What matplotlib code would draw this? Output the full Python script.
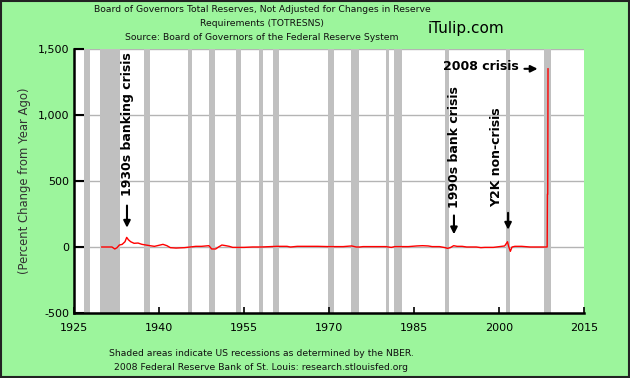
import matplotlib
matplotlib.use("Agg")
import matplotlib.pyplot as plt
from matplotlib.patches import Rectangle

# ---- Data ----
years = [1929.9, 1931.0, 1931.7, 1932.2, 1932.6, 1933.0, 1933.5, 1934.0, 1934.3,
         1934.6, 1935.0, 1935.6, 1936.3, 1937.0, 1937.7, 1938.4, 1939.2, 1940.2,
         1940.7, 1941.4, 1942.0, 1943.0, 1944.5, 1945.5, 1946.5, 1947.5, 1948.8,
         1949.3, 1950.0, 1950.5, 1951.1, 1951.8, 1952.4, 1953.0, 1955.0, 1956.5,
         1958.0, 1960.8, 1962.6, 1963.2, 1964.4, 1968.0, 1970.0, 1972.5, 1974.0,
         1974.8, 1975.4, 1976.0, 1978.0, 1980.0, 1981.0, 1981.6, 1982.2, 1984.0,
         1985.5, 1986.5, 1987.5, 1988.2, 1989.5, 1990.5, 1990.9, 1991.4, 1992.0,
         1992.6, 1993.5, 1994.3, 1996.0, 1996.8, 1997.5, 1999.0, 2001.0, 2001.5,
         2001.7, 2002.0, 2002.3, 2002.8, 2004.0, 2005.5, 2007.0, 2008.5, 2008.55,
         2008.6, 2008.65]
pct_change = [0, 0, 0, -15, -5, 15, 20, 40, 73,
              55, 40, 28, 30, 20, 15, 10, 5, 15,
              20, 10, -5, -8, -5, 0, 5, 5, 10,
              -15, -15, 0, 15, 10, 5, -3, -3, 0,
              0, 5, 5, 0, 5, 5, 3, 3, 8,
              0, 0, 3, 3, 3, -3, 3, 3, 3,
              8, 10, 8, 3, 3, -5, -10, -5, 10,
              5, 5, 0, 0, -5, -3, -3, 8, 40,
              5, -33, 0, 5, 5, 0, 0, 0, 400,
              400, 1350]

# NBER recessions (start, end) in decimal years
recessions = [(1926.8, 1927.9), (1929.6, 1933.2), (1937.4, 1938.5), (1945.1, 1945.8),
              (1948.9, 1949.8), (1953.5, 1954.4), (1957.6, 1958.4), (1960.2, 1961.1),
              (1969.9, 1970.9), (1973.8, 1975.3), (1980.0, 1980.6), (1981.5, 1982.9),
              (1990.4, 1991.2), (2001.2, 2001.9), (2007.9, 2009.1)]

x_ticks = [1925, 1940, 1955, 1970, 1985, 2000, 2015]
y_ticks = [-500, 0, 500, 1000, 1500]
y_tick_labels = ["-500", "0", "500", "1,000", "1,500"]

# ---- Figure ----
bg = "#9cf59c"
fig = plt.figure(figsize=(6.3, 3.78), dpi=100)
fig.patch.set_facecolor(bg)
fig.patches.append(Rectangle((0.0015, 0.0025), 0.997, 0.995, transform=fig.transFigure,
                             fill=False, edgecolor="#222222", linewidth=1.5))

ax = fig.add_axes([74 / 630, 65 / 378, 510 / 630, 264 / 378])
ax.set_facecolor("white")

for start, end in recessions:
    ax.axvspan(start, end, color="#c0c0c0", lw=0, zorder=1)

for y in [0, 500, 1000, 1500]:
    ax.axhline(y, color="#b4b4b4", lw=1, zorder=0.5)

ax.plot(years, pct_change, color="red", lw=1, zorder=3)

ax.set_xlim(1925, 2015)
ax.set_ylim(-500, 1500)
ax.set_xticks(x_ticks)
ax.set_yticks(y_ticks)
ax.set_yticklabels(y_tick_labels)
ax.tick_params(axis="both", direction="in", labelsize=8, colors="black")
ax.tick_params(axis="y", length=7, width=1.5)
ax.tick_params(axis="x", length=4, width=1.2, pad=7)
for side in ["top", "right"]:
    ax.spines[side].set_visible(False)
for side in ["left", "bottom"]:
    ax.spines[side].set_linewidth(1.8)
    ax.spines[side].set_zorder(4)
ax.set_ylabel("(Percent Change from Year Ago)", fontsize=8.4, color="#333333", labelpad=5)

# ---- Annotations ----
bold = dict(fontsize=9, fontweight="bold", color="black", rotation=90, ha="center", va="center")
arrow = dict(arrowstyle="-|>", color="black", lw=1.5, mutation_scale=10)

ax.text(1934.5, 930, "1930s banking crisis", **bold, zorder=5)
ax.annotate("", xy=(1934.35, 125), xytext=(1934.35, 335), arrowprops=arrow, zorder=5)
ax.text(1992.2, 760, "1990s bank crisis", **bold, zorder=5)
ax.annotate("", xy=(1992.05, 75), xytext=(1992.05, 260), arrowprops=arrow, zorder=5)
ax.text(1999.6, 680, "Y2K non-crisis", **bold, zorder=5)
ax.annotate("", xy=(2001.6, 110), xytext=(2001.6, 280), arrowprops=arrow, zorder=5)
ax.text(2003.5, 1365, "2008 crisis", fontsize=9, fontweight="bold", ha="right",
        va="center", zorder=5)
ax.annotate("", xy=(2007.3, 1350), xytext=(2004.0, 1350), arrowprops=arrow, zorder=5)

# ---- Titles / footer ----
small = dict(ha="center", va="center", fontsize=6.7, color="#111111")
fig.text(262 / 630, 1 - 10 / 378,
         "Board of Governors Total Reserves, Not Adjusted for Changes in Reserve", **small)
fig.text(262 / 630, 1 - 24 / 378, "Requirements (TOTRESNS)", **small)
fig.text(262 / 630, 1 - 38 / 378, "Source: Board of Governors of the Federal Reserve System",
         **small)
fig.text(466 / 630, 1 - 29 / 378, "iTulip.com", ha="center", va="center",
         fontsize=11, color="black")
fig.text(261 / 630, 1 - 354 / 378,
         "Shaded areas indicate US recessions as determined by the NBER.", **small)
fig.text(261 / 630, 1 - 368 / 378,
         "2008 Federal Reserve Bank of St. Louis: research.stlouisfed.org", **small)

fig.savefig("out.png", dpi=100, facecolor=bg)
